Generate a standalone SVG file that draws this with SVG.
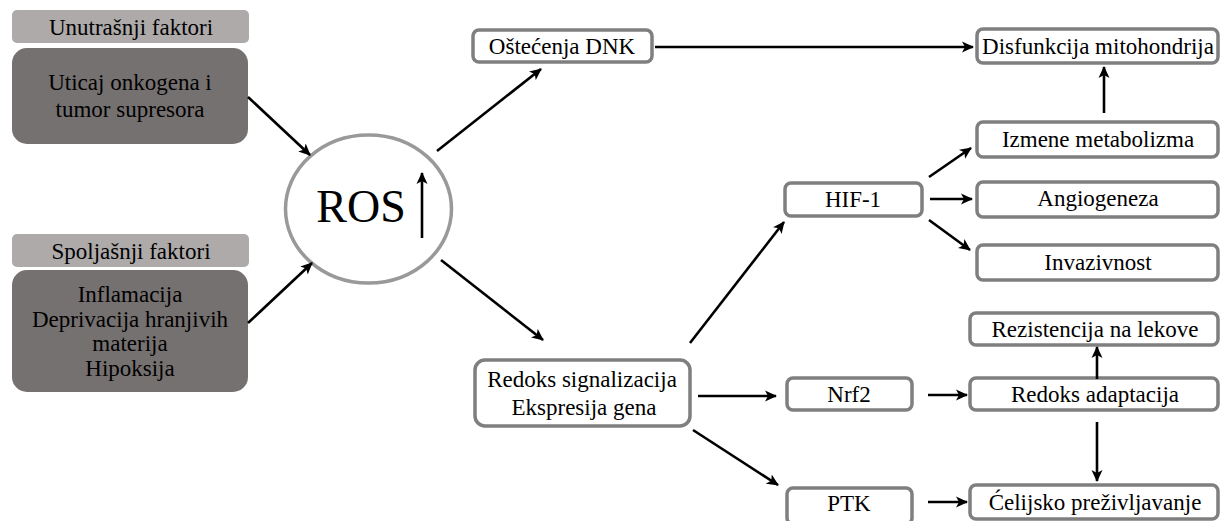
<svg xmlns="http://www.w3.org/2000/svg" width="1221" height="521" viewBox="0 0 1221 521">
<defs>
<marker id="ah" markerUnits="userSpaceOnUse" markerWidth="14" markerHeight="12" refX="11" refY="6" orient="auto">
<path d="M0,0.5 L12,6 L0,11.5 L3,6 Z" fill="#000"/>
</marker>
</defs>
<rect width="1221" height="521" fill="#fff"/>
<g id="unutrasnji">
<rect fill="#aeaaaa" x="12" y="10" width="237" height="33" rx="5"/>
<text text-anchor="middle" x="131" y="35" style="font-family:'Liberation Serif';font-size:23px">Unutrašnji faktori</text>
</g>
<g id="uticaj">
<rect fill="#767171" x="12" y="48" width="236" height="96" rx="15"/>
<text text-anchor="middle" x="130" y="90" style="font-family:'Liberation Serif';font-size:23px">Uticaj onkogena i</text>
<text text-anchor="middle" x="130" y="117" style="font-family:'Liberation Serif';font-size:23px">tumor supresora</text>
</g>
<g id="spoljasnji">
<rect fill="#aeaaaa" x="12" y="234" width="237" height="33" rx="5"/>
<text text-anchor="middle" x="131" y="259" style="font-family:'Liberation Serif';font-size:23px">Spoljašnji faktori</text>
</g>
<g id="spoljni-faktori">
<rect fill="#767171" x="12" y="270" width="236" height="122" rx="15"/>
<text text-anchor="middle" x="130" y="302" style="font-family:'Liberation Serif';font-size:23px">Inflamacija</text>
<text text-anchor="middle" x="130" y="327" style="font-family:'Liberation Serif';font-size:23px">Deprivacija hranjivih</text>
<text text-anchor="middle" x="130" y="351" style="font-family:'Liberation Serif';font-size:23px">materija</text>
<text text-anchor="middle" x="130" y="376" style="font-family:'Liberation Serif';font-size:23px">Hipoksija</text>
</g>
<g id="ros">
<ellipse cx="368.5" cy="209" rx="83" ry="74" fill="#fff" stroke="#999" stroke-width="3.5"/>
<text text-anchor="middle" x="361" y="222" style="font-family:'Liberation Serif';font-size:46px">ROS</text>
<line stroke="#000" stroke-width="2.6" marker-end="url(#ah)" x1="422" y1="238" x2="422" y2="173"/>
</g>
<g id="ostecenja">
<rect fill="#fff" stroke="#7f7f7f" stroke-width="3.5" x="473" y="30" width="179" height="32" rx="6"/>
<text text-anchor="middle" x="562" y="54" style="font-family:'Liberation Serif';font-size:23px">Oštećenja DNK</text>
</g>
<g id="disfunkcija">
<rect fill="#fff" stroke="#7f7f7f" stroke-width="3.5" x="977" y="29" width="241" height="34" rx="6"/>
<text text-anchor="middle" x="1098" y="54" style="font-family:'Liberation Serif';font-size:23px">Disfunkcija mitohondrija</text>
</g>
<g id="izmene">
<rect fill="#fff" stroke="#7f7f7f" stroke-width="3.5" x="977" y="122" width="241" height="35" rx="6"/>
<text text-anchor="middle" x="1098" y="147" style="font-family:'Liberation Serif';font-size:23px">Izmene metabolizma</text>
</g>
<g id="hif1">
<rect fill="#fff" stroke="#7f7f7f" stroke-width="3.5" x="785" y="183" width="137" height="33" rx="6"/>
<text text-anchor="middle" x="853" y="207" style="font-family:'Liberation Serif';font-size:23px">HIF-1</text>
</g>
<g id="angiogeneza">
<rect fill="#fff" stroke="#7f7f7f" stroke-width="3.5" x="977" y="182" width="241" height="35" rx="6"/>
<text text-anchor="middle" x="1098" y="206" style="font-family:'Liberation Serif';font-size:23px">Angiogeneza</text>
</g>
<g id="invazivnost">
<rect fill="#fff" stroke="#7f7f7f" stroke-width="3.5" x="977" y="245" width="241" height="35" rx="6"/>
<text text-anchor="middle" x="1098" y="270" style="font-family:'Liberation Serif';font-size:23px">Invazivnost</text>
</g>
<g id="redoks-signalizacija">
<rect fill="#fff" stroke="#7f7f7f" stroke-width="3.5" x="475" y="360" width="215" height="66" rx="10"/>
<text text-anchor="middle" x="582" y="387" style="font-family:'Liberation Serif';font-size:23px">Redoks signalizacija</text>
<text text-anchor="middle" x="584" y="415" style="font-family:'Liberation Serif';font-size:23px">Ekspresija gena</text>
</g>
<g id="rezistencija">
<rect fill="#fff" stroke="#7f7f7f" stroke-width="3.5" x="970" y="313" width="248" height="32" rx="6"/>
<text text-anchor="middle" x="1095" y="337" style="font-family:'Liberation Serif';font-size:23px">Rezistencija na lekove</text>
</g>
<g id="nrf2">
<rect fill="#fff" stroke="#7f7f7f" stroke-width="3.5" x="787" y="378" width="125" height="32" rx="6"/>
<text text-anchor="middle" x="849" y="402" style="font-family:'Liberation Serif';font-size:23px">Nrf2</text>
</g>
<g id="redoks-adaptacija">
<rect fill="#fff" stroke="#7f7f7f" stroke-width="3.5" x="970" y="378" width="248" height="32" rx="6"/>
<text text-anchor="middle" x="1095" y="402" style="font-family:'Liberation Serif';font-size:23px">Redoks adaptacija</text>
</g>
<g id="ptk">
<rect fill="#fff" stroke="#7f7f7f" stroke-width="3.5" x="787" y="488" width="125" height="36" rx="6"/>
<text text-anchor="middle" x="849" y="511" style="font-family:'Liberation Serif';font-size:23px">PTK</text>
</g>
<g id="celijsko">
<rect fill="#fff" stroke="#7f7f7f" stroke-width="3.5" x="970" y="485" width="248" height="34" rx="6"/>
<text text-anchor="middle" x="1095" y="510" style="font-family:'Liberation Serif';font-size:23px">Ćelijsko preživljavanje</text>
</g>
<g id="connectors" stroke="#000" stroke-width="2.6" fill="none" marker-end="url(#ah)">
<line x1="248" y1="97" x2="310" y2="155"/>
<line x1="248" y1="323" x2="312" y2="263"/>
<line x1="437" y1="151" x2="541" y2="69"/>
<line x1="441" y1="260" x2="543" y2="340"/>
<line x1="655" y1="47" x2="973" y2="47"/>
<line x1="1104" y1="113" x2="1104" y2="67"/>
<line x1="929" y1="177" x2="971" y2="148"/>
<line x1="930" y1="199" x2="972" y2="199"/>
<line x1="929" y1="220" x2="970" y2="250"/>
<line x1="690" y1="343" x2="784" y2="222"/>
<line x1="698" y1="396" x2="776" y2="396"/>
<line x1="693" y1="430" x2="778" y2="485"/>
<line x1="928" y1="395" x2="967" y2="395"/>
<line x1="928" y1="502" x2="967" y2="502"/>
<line x1="1097" y1="379" x2="1097" y2="347"/>
<line x1="1097" y1="422" x2="1097" y2="481"/>
</g>
</svg>
